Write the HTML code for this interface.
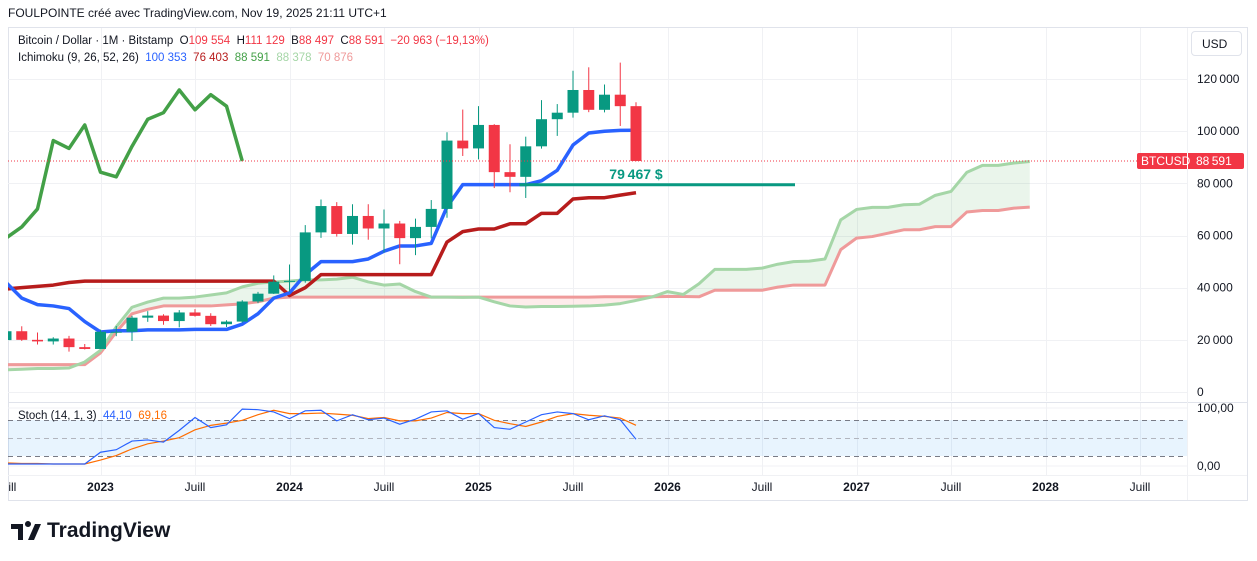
<!DOCTYPE html>
<html><head><meta charset="utf-8">
<style>
body{margin:0;background:#fff;width:1257px;height:561px;overflow:hidden;font-family:"Liberation Sans",sans-serif;}
svg{position:absolute;left:0;top:0}
text{font-family:"Liberation Sans",sans-serif}
</style></head>
<body>
<svg id="c" width="1257" height="561" viewBox="0 0 1257 561"></svg>
<script>
// ---- data (monthly, from Jul 2022) ----
const months = ["2022-07","2022-08","2022-09","2022-10","2022-11","2022-12","2023-01","2023-02","2023-03","2023-04","2023-05","2023-06","2023-07","2023-08","2023-09","2023-10","2023-11","2023-12","2024-01","2024-02","2024-03","2024-04","2024-05","2024-06","2024-07","2024-08","2024-09","2024-10","2024-11","2024-12","2025-01","2025-02","2025-03","2025-04","2025-05","2025-06","2025-07","2025-08","2025-09","2025-10","2025-11"];
const opens = [19.9,23.3,20.0,19.4,20.5,17.2,16.5,23.1,23.1,28.5,29.3,27.2,30.5,29.2,26.0,27.0,34.7,37.7,42.3,42.6,61.2,71.3,60.6,67.5,62.7,64.6,59.0,63.3,70.2,96.4,93.4,102.4,84.3,82.5,94.2,104.6,107.1,115.8,108.2,114.0,109.6];
const highs = [24.6,25.2,22.8,21.0,21.5,18.4,23.9,25.3,29.2,31.0,29.8,31.4,31.8,30.2,27.5,35.2,38.4,44.7,48.9,64.0,73.8,72.8,72.0,72.0,70.0,65.6,66.5,73.6,99.6,108.3,109.6,102.7,95.0,97.9,111.9,110.4,123.2,124.5,117.9,126.3,111.1];
const lows = [18.9,19.6,18.2,18.2,15.5,16.3,16.5,21.4,19.6,26.9,25.8,24.8,28.9,25.3,24.9,26.6,34.1,37.6,38.5,41.9,59.1,59.6,56.5,58.4,53.5,49.0,52.5,58.9,66.8,90.5,89.2,78.2,76.6,74.4,93.3,98.2,105.2,107.3,107.2,102.0,88.5];
const closes = [23.3,20.0,19.4,20.5,17.2,16.5,23.1,23.1,28.5,29.3,27.2,30.5,29.2,26.0,27.0,34.7,37.7,42.3,42.6,61.2,71.3,60.6,67.5,62.7,64.6,59.0,63.3,70.2,96.4,93.4,102.4,84.3,82.5,94.2,104.6,107.1,115.8,108.2,114.0,109.6,88.591];
const tenkan = [42,36,33.5,33,32,27,23,23.5,23.5,23.8,23.8,23.8,24,24,24,26,30,36,38,45,50,50,50,51,54,56,56,57,71,79.5,79.5,79.5,79.5,79.5,81,85,94.7,99.3,100,100.3,100.353];
const kijun = [39.5,40,40.5,41,42,42.5,42.5,42.5,42.5,42.5,42.5,42.5,42.5,42.5,42.5,42.5,42.5,42.5,37,40,45,45,45,45,45,45,45,45,57.5,61.5,62.5,62.5,64.5,64.5,68.5,68.5,74,74.5,74.5,75.5,76.403];
const spanA = [8.5,8.7,9,9,9.2,11.5,16,25,32.5,34.5,36,36,36.4,37.2,38,40.3,41.7,42.2,42.5,43,43,43.3,44,42.2,41,41.4,38.5,36.4,36.4,36.3,36.4,34.6,33,32.6,32.8,32.8,32.9,33,33.3,33.9,35.1,36.4,38.5,37.4,41.5,47,47,47,47.5,49,50,50.2,51,66,70,70.8,70.8,71.8,72,75.4,76.9,84.2,86.9,86.9,87.8,88.378];
const spanB = [10.5,10.5,10.5,10.5,10.5,10.5,15,23,30,31.7,33,33,33,33,33.4,33.8,34.6,36,36.4,36.4,36.4,36.4,36.4,36.4,36.4,36.4,36.4,36.4,36.4,36.4,36.4,36.4,36.4,36.4,36.4,36.4,36.4,36.4,36.5,36.5,36.5,36.5,36.6,36.6,36.5,39,39,39,39,40.2,41,41,41,54.6,59,59.6,60.9,62.2,62.2,63.4,63.4,69,69.6,69.6,70.5,70.876];
const stochK = [0,0,0,0,0,0,21,25.5,41,43,39,60,83,65,70,98,97,93,81,95,96,77,88,79,82,71,80,93,95,80,90,65,62,75,88,93,90,79,86,79,44.1];
const stochD = [2,1,1,0,0,0,7,15,27,36,41,47,61,69,73,78,88,96,90,90,91,89,87,81,83,77,77,82,92,90,90,78,72,67,75,85,90,87,85,82,69.16];
const priceTicks = [0,20000,40000,60000,80000,100000,120000];
const timeLabels = ["Juill","2023","Juill","2024","Juill","2025","Juill","2026","Juill","2027","Juill","2028","Juill"];
const timeLabelMonth = [0,6,12,18,24,30,36,42,48,54,60,66,72];
const lastPrice = 88.591;
const supportLevel = 79.467;
const chikouShift = 25;

// ---- axes ----
const X = i => 6 + 15.75*i;
const Y = v => 392 - v*2.608;            // v in thousands
const YS = v => 464 - v*0.56;
const svg = document.getElementById('c');
const NS = 'http://www.w3.org/2000/svg';
function mk(tag, attrs, parent){const e=document.createElementNS(NS,tag);for(const k in attrs)e.setAttribute(k,attrs[k]);(parent||svg).appendChild(e);return e;}
const fmt = n => String(Math.round(n)).replace(/\B(?=(\d{3})+(?!\d))/g,'\u202f');

const defs = mk('defs',{});
const cp = mk('clipPath',{id:'pc'},defs); mk('rect',{x:8,y:28,width:1179,height:373},cp);
const cp2 = mk('clipPath',{id:'sc'},defs); mk('rect',{x:8,y:403,width:1179,height:72},cp2);

let e;
e=mk('rect',{x:8.5,y:27.5,width:1239,height:473,fill:'none',stroke:'#e0e3eb'});


const grid = mk('g',{stroke:'#f0f1f4','stroke-width':1});


priceTicks.forEach(t=>{mk('line',{x1:8,x2:1187,y1:Math.round(Y(t/1000))+.5,y2:Math.round(Y(t/1000))+.5},grid);});
timeLabelMonth.forEach(m=>{const x=Math.round(X(m))+.5; if(x>8&&x<1187){mk('line',{x1:x,x2:x,y1:28,y2:401},grid);mk('line',{x1:x,x2:x,y1:403,y2:475},grid);}});
mk('line',{x1:8,x2:1187,y1:408,y2:408},grid);mk('line',{x1:8,x2:1187,y1:466,y2:466},grid);
mk('line',{x1:8,x2:1247,y1:402.5,y2:402.5,stroke:'#e0e3eb'});
mk('line',{x1:1187.5,x2:1187.5,y1:28,y2:500,stroke:'#f0f1f4'});
mk('line',{x1:8,x2:1247,y1:475.5,y2:475.5,stroke:'#f0f1f4'});

const plot = mk('g',{'clip-path':'url(#pc)'});



const cloud = mk('g',{},plot);


for(let i=0;i<spanA.length-1;i++){
  const up = (spanA[i]+spanA[i+1]) >= (spanB[i]+spanB[i+1]);
  const p = mk('polygon',{points:`${X(i)},${Y(spanA[i])} ${X(i+1)},${Y(spanA[i+1])} ${X(i+1)},${Y(spanB[i+1])} ${X(i)},${Y(spanB[i])}`,fill:up?'rgba(67,160,71,0.11)':'rgba(244,67,54,0.10)'},cloud);
  
  
}
function line(arr, color, w, name, off, op){
  const pts = arr.map((v,i)=>`${X(i+(off||0))},${Y(v)}`).join(' ');
  const l = mk('polyline',{points:pts,fill:'none',stroke:color,'stroke-width':w,'stroke-linejoin':'round',opacity:op||1},plot);
  
  
}
line(spanB,'#ef9a9a',3,'senkou-span-b');
line(spanA,'#a5d6a7',3,'senkou-span-a');
const chik = closes.slice(chikouShift);
line(chik,'#43a047',3.5,'chikou-span');
line(kijun,'#b71c1c',3.5,'kijun-sen');
line(tenkan,'#2962ff',3.5,'tenkan-sen');

const cg = mk('g',{},plot);


months.forEach((m,i)=>{
  const up = closes[i]>=opens[i]; const col = up?'#089981':'#f23645';
  const x=X(i);
  const w = mk('line',{x1:x,x2:x,y1:Y(highs[i]),y2:Y(lows[i]),stroke:col,'stroke-width':1},cg);
  
  
  const t=Y(Math.max(opens[i],closes[i])), b=Y(Math.min(opens[i],closes[i]));
  const r = mk('rect',{x:x-5.5,y:t,width:11,height:Math.max(1,b-t),fill:col},cg);
  
  
});

const sl = mk('line',{x1:X(32.6),x2:795,y1:Y(supportLevel),y2:Y(supportLevel),stroke:'#089981','stroke-width':3},plot);


e=mk('text',{x:636,y:Y(supportLevel)-6,fill:'#089981','font-size':14,'font-weight':'bold','text-anchor':'middle'},plot);
e.textContent = fmt(supportLevel*1000)+' $';


e=mk('line',{x1:8,x2:1187,y1:Y(lastPrice),y2:Y(lastPrice),stroke:'#f23645','stroke-width':1,'stroke-dasharray':'1 2'});



const sp = mk('g',{'clip-path':'url(#sc)'});


e=mk('rect',{x:8,y:420,width:1179,height:36,fill:'rgba(33,150,243,0.1)'},sp);


[[420,'#787b86'],[438,'#b2b5be'],[456,'#787b86']].forEach(([y,c])=>{mk('line',{x1:8,x2:1187,y1:y+.5,y2:y+.5,stroke:c,'stroke-dasharray':'5 4'},sp);});
function sline(arr,col,name){
  const l=mk('polyline',{points:arr.map((v,i)=>`${X(i)},${YS(v)}`).join(' '),fill:'none',stroke:col,'stroke-width':1.2},sp);
  
  
}
sline(stochD,'#ff6d00','stoch-d-line');
sline(stochK,'#2962ff','stoch-k-line');

priceTicks.forEach(t=>{
  const tx=mk('text',{x:1197,y:Y(t/1000)+4,'font-size':12,fill:'#131722'});
  tx.textContent = fmt(t);
  
  
});
[['100,00',408],['0,00',466]].forEach(([s,y])=>{
  const tx=mk('text',{x:1197,y:y+4,'font-size':12,fill:'#131722'});
  tx.textContent=s;
  
  
});
const badge = mk('g',{});


mk('rect',{x:1137,y:Y(lastPrice)-8,width:107,height:16,rx:2,fill:'#f23645'},badge);
mk('line',{x1:1187.5,x2:1187.5,y1:Y(lastPrice)-8,y2:Y(lastPrice)+8,stroke:'#fff'},badge);
let bt=mk('text',{x:1141,y:Y(lastPrice)+4,'font-size':12,fill:'#fff'},badge);bt.textContent='BTCUSD';
bt=mk('text',{x:1196,y:Y(lastPrice)+4,'font-size':12,fill:'#fff'},badge);bt.textContent=fmt(lastPrice*1000);

timeLabels.forEach((s,k)=>{
  const x=X(timeLabelMonth[k]);
  const tx=mk('text',{x:x,y:491,'font-size':12,fill:'#131722','text-anchor':'middle','font-weight':/^\d/.test(s)?'bold':'normal'});
  tx.textContent=s;
  
  
});
mk('rect',{x:0,y:476,width:8,height:24,fill:'#fff'});
</script>
<div style="position:absolute;left:8px;top:6px;font-size:12px;color:#131722">FOULPOINTE créé avec TradingView.com, Nov 19, 2025 21:11 UTC+1</div>
<div style="position:absolute;left:18px;top:35px;font-size:11.5px;color:#131722;white-space:nowrap">Bitcoin / Dollar · 1M · Bitstamp &nbsp;O<span style="color:#f23645">109 554</span> &nbsp;H<span style="color:#f23645">111 129</span> &nbsp;B<span style="color:#f23645">88 497</span> &nbsp;C<span style="color:#f23645">88 591</span> &nbsp;<span style="color:#f23645">−20 963 (−19,13%)</span></div>
<div style="position:absolute;left:18px;top:52px;font-size:11.5px;color:#131722;white-space:nowrap">Ichimoku (9, 26, 52, 26) &nbsp;<span style="color:#2962ff">100 353</span> &nbsp;<span style="color:#b71c1c">76 403</span> &nbsp;<span style="color:#43a047">88 591</span> &nbsp;<span style="color:#a5d6a7">88 378</span> &nbsp;<span style="color:#ef9a9a">70 876</span></div>
<div style="position:absolute;left:18px;top:410px;font-size:11.5px;color:#131722;white-space:nowrap">Stoch (14, 1, 3) &nbsp;<span style="color:#2962ff">44,10</span> &nbsp;<span style="color:#ff6d00">69,16</span></div>
<div style="position:absolute;left:1191px;top:31px;width:51px;height:25px;border:1px solid #e0e3eb;border-radius:4px;font-size:12px;color:#131722;line-height:25px;box-sizing:border-box;padding-left:10px">USD</div>
<div style="position:absolute;left:11px;top:521px;height:22px;">
<svg width="32" height="22" viewBox="0 0 32 22" style="position:absolute;left:0;top:0"><path d="M0 3h12v16H7V8H0z M14 3a3 3 0 1 1 0 .1z M17 19l7-16h6l-7 16z" fill="#131722"/></svg>
<span style="position:absolute;left:36px;top:-2px;font-size:21px;font-weight:bold;color:#131722;white-space:nowrap">TradingView</span></div>
</body></html>
